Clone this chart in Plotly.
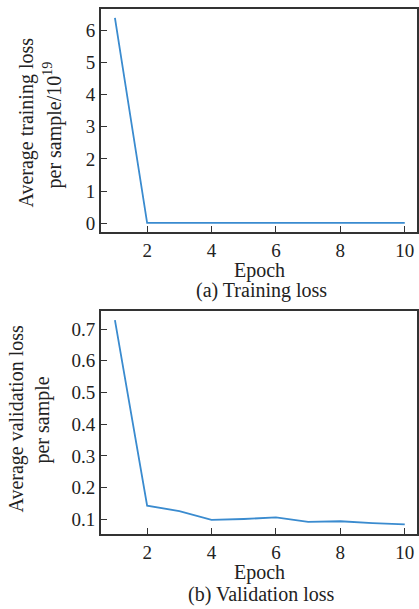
import plotly.graph_objects as go

epochs = [1, 2, 3, 4, 5, 6, 7, 8, 9, 10]
train_loss = [6.38, 0.01, 0.01, 0.01, 0.01, 0.01, 0.01, 0.01, 0.01, 0.01]
val_loss = [0.728, 0.143, 0.126, 0.098, 0.101, 0.106, 0.092, 0.094, 0.088, 0.084]
x_ticks = [2, 4, 6, 8, 10]
train_ticks = [0, 1, 2, 3, 4, 5, 6]
val_ticks = [0.1, 0.2, 0.3, 0.4, 0.5, 0.6, 0.7]

W, H = 419, 609
FONT = "Liberation Serif"
LINE = "#3a8bcf"
AX = "#333333"

def py(p):
    return 1 - p / H

def px(p):
    return p / W

fig = go.Figure()
fig.add_trace(go.Scatter(x=epochs, y=train_loss, mode="lines",
                         line=dict(color=LINE, width=1.8), xaxis="x", yaxis="y"))
fig.add_trace(go.Scatter(x=epochs, y=val_loss, mode="lines",
                         line=dict(color=LINE, width=1.8), xaxis="x2", yaxis="y2"))

axis_common = dict(showgrid=False, zeroline=False, showline=True, mirror=True,
                   linecolor=AX, linewidth=1.5, ticks="inside", ticklen=6,
                   tickwidth=1.3, tickcolor=AX,
                   tickfont=dict(family=FONT, size=19, color="#222"))

xd = [px(101), px(418)]
fig.update_layout(
    width=W, height=H, margin=dict(l=0, r=0, t=0, b=0),
    paper_bgcolor="white", plot_bgcolor="white", showlegend=False,
    xaxis=dict(domain=xd, range=[0.56, 10.38], tickvals=x_ticks, anchor="y", **axis_common),
    yaxis=dict(domain=[py(233), py(9)], range=[-0.28, 6.66], tickvals=train_ticks,
               anchor="x", **axis_common),
    xaxis2=dict(domain=xd, range=[0.56, 10.38], tickvals=x_ticks, anchor="y2", **axis_common),
    yaxis2=dict(domain=[py(536), py(312)], range=[0.053, 0.757], tickvals=val_ticks,
                tickformat=".1f", anchor="x2", **axis_common),
)

tf = dict(family=FONT, size=20, color="#222")
anns = [
    dict(text="Epoch", x=px(260), y=py(271)),
    dict(text="(a) Training loss", x=px(262), y=py(291)),
    dict(text="Epoch", x=px(260), y=py(574)),
    dict(text="(b) Validation loss", x=px(262), y=py(596)),
    dict(text="Average training loss", x=px(27), y=py(123), textangle=-90),
    dict(text="per sample/10<sup>19</sup>", x=px(53), y=py(125), textangle=-90),
    dict(text="Average validation loss", x=px(17), y=py(420), textangle=-90),
    dict(text="per sample", x=px(43), y=py(421), textangle=-90),
]
for a in anns:
    fig.add_annotation(xref="paper", yref="paper", showarrow=False,
                       xanchor="center", yanchor="middle", font=tf, **a)

fig.write_html("out.html")
